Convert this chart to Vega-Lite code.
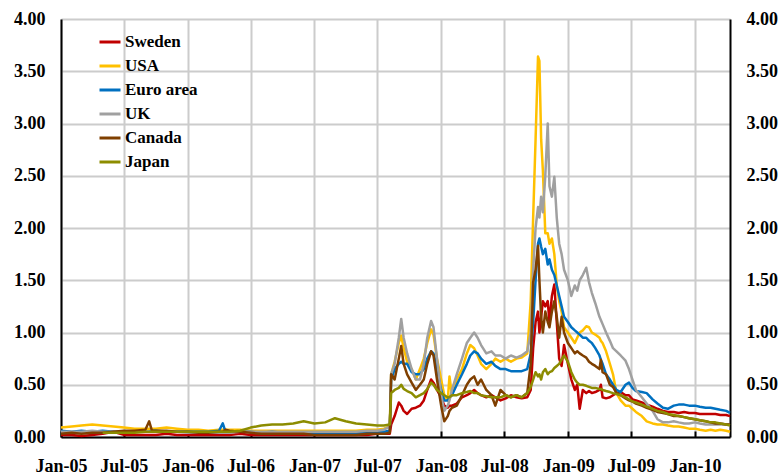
{
  "$schema": "https://vega.github.io/schema/vega-lite/v6.json",
  "width": 669,
  "height": 418,
  "autosize": "none",
  "padding": {"left": 61, "top": 19, "right": 51, "bottom": 39},
  "background": "white",
  "config": {"view": {"stroke": null}, "font": "Liberation Serif"},
  "datasets": {
    "rates": [
    {"d":"2005-01-01","Sweden":0.02,"USA":0.09,"Euro area":0.06,"UK":0.05,"Canada":0.03,"Japan":null},
    {"d":"2005-02-01","Sweden":0.02,"USA":0.10,"Euro area":0.05,"UK":0.05,"Canada":0.04,"Japan":null},
    {"d":"2005-03-01","Sweden":0.01,"USA":0.11,"Euro area":0.06,"UK":0.05,"Canada":0.03,"Japan":null},
    {"d":"2005-04-01","Sweden":0.02,"USA":0.12,"Euro area":0.05,"UK":0.06,"Canada":0.04,"Japan":null},
    {"d":"2005-05-01","Sweden":0.03,"USA":0.11,"Euro area":0.06,"UK":0.05,"Canada":0.04,"Japan":0.04},
    {"d":"2005-06-01","Sweden":0.05,"USA":0.10,"Euro area":0.05,"UK":0.05,"Canada":0.05,"Japan":0.04},
    {"d":"2005-07-01","Sweden":0.02,"USA":0.09,"Euro area":0.05,"UK":0.05,"Canada":0.06,"Japan":0.04},
    {"d":"2005-08-01","Sweden":0.02,"USA":0.08,"Euro area":0.05,"UK":0.05,"Canada":0.06,"Japan":0.04},
    {"d":"2005-09-01","Sweden":0.02,"USA":0.08,"Euro area":0.05,"UK":0.05,"Canada":0.07,"Japan":0.05},
    {"d":"2005-09-12","Sweden":0.02,"USA":0.08,"Euro area":0.05,"UK":0.05,"Canada":0.15,"Japan":0.05},
    {"d":"2005-09-20","Sweden":0.02,"USA":0.08,"Euro area":0.06,"UK":0.05,"Canada":0.06,"Japan":0.05},
    {"d":"2005-10-01","Sweden":0.02,"USA":0.08,"Euro area":0.06,"UK":0.05,"Canada":0.06,"Japan":0.05},
    {"d":"2005-11-01","Sweden":0.03,"USA":0.09,"Euro area":0.05,"UK":0.05,"Canada":0.06,"Japan":0.05},
    {"d":"2005-12-01","Sweden":0.02,"USA":0.08,"Euro area":0.05,"UK":0.05,"Canada":0.05,"Japan":0.05},
    {"d":"2006-01-01","Sweden":0.02,"USA":0.07,"Euro area":0.05,"UK":0.04,"Canada":0.05,"Japan":0.05},
    {"d":"2006-02-01","Sweden":0.02,"USA":0.07,"Euro area":0.05,"UK":0.04,"Canada":0.04,"Japan":0.05},
    {"d":"2006-03-01","Sweden":0.02,"USA":0.06,"Euro area":0.05,"UK":0.04,"Canada":0.04,"Japan":0.05},
    {"d":"2006-04-01","Sweden":0.02,"USA":0.07,"Euro area":0.06,"UK":0.04,"Canada":0.05,"Japan":0.05},
    {"d":"2006-04-12","Sweden":0.02,"USA":0.07,"Euro area":0.13,"UK":0.04,"Canada":0.05,"Japan":0.05},
    {"d":"2006-04-20","Sweden":0.02,"USA":0.07,"Euro area":0.05,"UK":0.04,"Canada":0.07,"Japan":0.05},
    {"d":"2006-05-01","Sweden":0.02,"USA":0.07,"Euro area":0.05,"UK":0.04,"Canada":0.06,"Japan":0.05},
    {"d":"2006-06-01","Sweden":0.03,"USA":0.07,"Euro area":0.05,"UK":0.05,"Canada":0.05,"Japan":0.06},
    {"d":"2006-07-01","Sweden":0.02,"USA":0.06,"Euro area":0.05,"UK":0.05,"Canada":0.04,"Japan":0.09},
    {"d":"2006-08-01","Sweden":0.02,"USA":0.06,"Euro area":0.04,"UK":0.05,"Canada":0.03,"Japan":0.11},
    {"d":"2006-09-01","Sweden":0.02,"USA":0.06,"Euro area":0.05,"UK":0.05,"Canada":0.03,"Japan":0.12},
    {"d":"2006-10-01","Sweden":0.02,"USA":0.06,"Euro area":0.04,"UK":0.05,"Canada":0.03,"Japan":0.12},
    {"d":"2006-11-01","Sweden":0.02,"USA":0.06,"Euro area":0.04,"UK":0.05,"Canada":0.03,"Japan":0.13},
    {"d":"2006-12-01","Sweden":0.02,"USA":0.06,"Euro area":0.04,"UK":0.05,"Canada":0.03,"Japan":0.15},
    {"d":"2007-01-01","Sweden":0.02,"USA":0.06,"Euro area":0.04,"UK":0.05,"Canada":0.02,"Japan":0.13},
    {"d":"2007-02-01","Sweden":0.02,"USA":0.06,"Euro area":0.04,"UK":0.05,"Canada":0.02,"Japan":0.14},
    {"d":"2007-03-01","Sweden":0.02,"USA":0.06,"Euro area":0.04,"UK":0.05,"Canada":0.02,"Japan":0.18},
    {"d":"2007-04-01","Sweden":0.02,"USA":0.06,"Euro area":0.04,"UK":0.05,"Canada":0.02,"Japan":0.15},
    {"d":"2007-05-01","Sweden":0.02,"USA":0.06,"Euro area":0.04,"UK":0.05,"Canada":0.02,"Japan":0.13},
    {"d":"2007-06-01","Sweden":0.02,"USA":0.07,"Euro area":0.04,"UK":0.06,"Canada":0.03,"Japan":0.12},
    {"d":"2007-07-01","Sweden":0.03,"USA":0.07,"Euro area":0.05,"UK":0.06,"Canada":0.03,"Japan":0.11},
    {"d":"2007-07-20","Sweden":0.03,"USA":0.08,"Euro area":0.05,"UK":0.07,"Canada":0.03,"Japan":0.11},
    {"d":"2007-08-06","Sweden":0.03,"USA":0.10,"Euro area":0.06,"UK":0.10,"Canada":0.04,"Japan":0.12},
    {"d":"2007-08-10","Sweden":0.12,"USA":0.60,"Euro area":0.55,"UK":0.60,"Canada":0.60,"Japan":0.42},
    {"d":"2007-08-20","Sweden":0.20,"USA":0.72,"Euro area":0.65,"UK":0.70,"Canada":0.55,"Japan":0.45},
    {"d":"2007-09-01","Sweden":0.33,"USA":0.90,"Euro area":0.70,"UK":0.95,"Canada":0.75,"Japan":0.47},
    {"d":"2007-09-08","Sweden":0.30,"USA":0.97,"Euro area":0.72,"UK":1.13,"Canada":0.87,"Japan":0.50},
    {"d":"2007-09-15","Sweden":0.25,"USA":0.85,"Euro area":0.70,"UK":0.95,"Canada":0.70,"Japan":0.46},
    {"d":"2007-09-25","Sweden":0.22,"USA":0.72,"Euro area":0.70,"UK":0.80,"Canada":0.60,"Japan":0.44},
    {"d":"2007-10-08","Sweden":0.27,"USA":0.65,"Euro area":0.62,"UK":0.65,"Canada":0.52,"Japan":0.42},
    {"d":"2007-10-20","Sweden":0.28,"USA":0.55,"Euro area":0.60,"UK":0.55,"Canada":0.45,"Japan":0.38},
    {"d":"2007-11-01","Sweden":0.30,"USA":0.65,"Euro area":0.60,"UK":0.55,"Canada":0.50,"Japan":0.40},
    {"d":"2007-11-12","Sweden":0.35,"USA":0.75,"Euro area":0.65,"UK":0.70,"Canada":0.55,"Japan":0.42},
    {"d":"2007-11-22","Sweden":0.45,"USA":0.90,"Euro area":0.75,"UK":0.95,"Canada":0.70,"Japan":0.46},
    {"d":"2007-12-03","Sweden":0.55,"USA":1.03,"Euro area":0.82,"UK":1.11,"Canada":0.82,"Japan":0.52},
    {"d":"2007-12-10","Sweden":0.52,"USA":0.98,"Euro area":0.80,"UK":1.05,"Canada":0.78,"Japan":0.50},
    {"d":"2007-12-20","Sweden":0.45,"USA":0.75,"Euro area":0.65,"UK":0.75,"Canada":0.55,"Japan":0.45},
    {"d":"2008-01-01","Sweden":0.38,"USA":0.55,"Euro area":0.45,"UK":0.40,"Canada":0.30,"Japan":0.42},
    {"d":"2008-01-10","Sweden":0.30,"USA":0.40,"Euro area":0.35,"UK":0.25,"Canada":0.15,"Japan":0.40},
    {"d":"2008-01-20","Sweden":0.28,"USA":0.35,"Euro area":0.35,"UK":0.30,"Canada":0.20,"Japan":0.38},
    {"d":"2008-01-25","Sweden":0.30,"USA":0.58,"Euro area":0.38,"UK":0.35,"Canada":0.25,"Japan":0.38},
    {"d":"2008-02-01","Sweden":0.30,"USA":0.40,"Euro area":0.40,"UK":0.45,"Canada":0.28,"Japan":0.40},
    {"d":"2008-02-15","Sweden":0.32,"USA":0.55,"Euro area":0.50,"UK":0.60,"Canada":0.30,"Japan":0.40},
    {"d":"2008-03-01","Sweden":0.38,"USA":0.65,"Euro area":0.60,"UK":0.75,"Canada":0.40,"Japan":0.42},
    {"d":"2008-03-15","Sweden":0.40,"USA":0.80,"Euro area":0.70,"UK":0.90,"Canada":0.50,"Japan":0.43},
    {"d":"2008-03-25","Sweden":0.42,"USA":0.88,"Euro area":0.78,"UK":0.95,"Canada":0.55,"Japan":0.44},
    {"d":"2008-04-05","Sweden":0.45,"USA":0.85,"Euro area":0.82,"UK":1.00,"Canada":0.58,"Japan":0.42},
    {"d":"2008-04-15","Sweden":0.42,"USA":0.78,"Euro area":0.80,"UK":0.95,"Canada":0.50,"Japan":0.42},
    {"d":"2008-04-25","Sweden":0.40,"USA":0.70,"Euro area":0.75,"UK":0.88,"Canada":0.55,"Japan":0.40},
    {"d":"2008-05-10","Sweden":0.38,"USA":0.65,"Euro area":0.70,"UK":0.80,"Canada":0.45,"Japan":0.39},
    {"d":"2008-05-25","Sweden":0.40,"USA":0.70,"Euro area":0.72,"UK":0.82,"Canada":0.40,"Japan":0.38},
    {"d":"2008-06-05","Sweden":0.38,"USA":0.75,"Euro area":0.68,"UK":0.78,"Canada":0.30,"Japan":0.38},
    {"d":"2008-06-20","Sweden":0.35,"USA":0.72,"Euro area":0.65,"UK":0.78,"Canada":0.45,"Japan":0.38},
    {"d":"2008-07-05","Sweden":0.37,"USA":0.75,"Euro area":0.65,"UK":0.75,"Canada":0.40,"Japan":0.40},
    {"d":"2008-07-20","Sweden":0.40,"USA":0.72,"Euro area":0.63,"UK":0.78,"Canada":0.38,"Japan":0.38},
    {"d":"2008-08-05","Sweden":0.38,"USA":0.75,"Euro area":0.63,"UK":0.76,"Canada":0.40,"Japan":0.40},
    {"d":"2008-08-20","Sweden":0.37,"USA":0.76,"Euro area":0.63,"UK":0.78,"Canada":0.38,"Japan":0.38},
    {"d":"2008-09-05","Sweden":0.38,"USA":0.80,"Euro area":0.65,"UK":0.82,"Canada":0.42,"Japan":0.42},
    {"d":"2008-09-15","Sweden":0.45,"USA":1.30,"Euro area":0.80,"UK":1.00,"Canada":0.70,"Japan":0.48},
    {"d":"2008-09-22","Sweden":0.85,"USA":2.10,"Euro area":1.10,"UK":1.60,"Canada":1.48,"Japan":0.55},
    {"d":"2008-09-29","Sweden":1.10,"USA":2.85,"Euro area":1.50,"UK":2.00,"Canada":1.60,"Japan":0.62},
    {"d":"2008-10-06","Sweden":1.20,"USA":3.64,"Euro area":1.85,"UK":2.20,"Canada":1.83,"Japan":0.58},
    {"d":"2008-10-10","Sweden":1.00,"USA":3.60,"Euro area":1.90,"UK":2.10,"Canada":1.50,"Japan":0.60},
    {"d":"2008-10-15","Sweden":1.15,"USA":2.85,"Euro area":1.82,"UK":2.30,"Canada":1.15,"Japan":0.55},
    {"d":"2008-10-20","Sweden":1.30,"USA":2.55,"Euro area":1.75,"UK":2.15,"Canada":1.00,"Japan":0.62},
    {"d":"2008-10-27","Sweden":1.25,"USA":1.95,"Euro area":1.80,"UK":2.50,"Canada":1.20,"Japan":0.65},
    {"d":"2008-11-03","Sweden":1.30,"USA":1.95,"Euro area":1.65,"UK":3.00,"Canada":1.10,"Japan":0.60},
    {"d":"2008-11-08","Sweden":1.10,"USA":1.85,"Euro area":1.70,"UK":2.40,"Canada":1.05,"Japan":0.62},
    {"d":"2008-11-15","Sweden":1.35,"USA":1.90,"Euro area":1.60,"UK":2.30,"Canada":1.20,"Japan":0.63},
    {"d":"2008-11-22","Sweden":1.46,"USA":1.75,"Euro area":1.55,"UK":2.49,"Canada":1.30,"Japan":0.66},
    {"d":"2008-11-29","Sweden":1.10,"USA":1.45,"Euro area":1.45,"UK":2.10,"Canada":1.15,"Japan":0.68},
    {"d":"2008-12-06","Sweden":0.75,"USA":1.30,"Euro area":1.35,"UK":1.85,"Canada":0.95,"Japan":0.70},
    {"d":"2008-12-13","Sweden":0.68,"USA":1.20,"Euro area":1.25,"UK":1.75,"Canada":1.15,"Japan":0.74},
    {"d":"2008-12-20","Sweden":0.88,"USA":1.05,"Euro area":1.15,"UK":1.60,"Canada":1.00,"Japan":0.78},
    {"d":"2008-12-31","Sweden":0.70,"USA":1.00,"Euro area":1.10,"UK":1.50,"Canada":0.90,"Japan":0.72},
    {"d":"2009-01-10","Sweden":0.55,"USA":0.95,"Euro area":1.05,"UK":1.35,"Canada":0.85,"Japan":0.62},
    {"d":"2009-01-20","Sweden":0.45,"USA":0.90,"Euro area":1.02,"UK":1.45,"Canada":0.80,"Japan":0.55},
    {"d":"2009-01-27","Sweden":0.50,"USA":0.95,"Euro area":1.00,"UK":1.40,"Canada":0.82,"Japan":0.52},
    {"d":"2009-02-03","Sweden":0.27,"USA":1.00,"Euro area":0.98,"UK":1.50,"Canada":0.80,"Japan":0.50},
    {"d":"2009-02-12","Sweden":0.45,"USA":1.02,"Euro area":0.95,"UK":1.55,"Canada":0.78,"Japan":0.50},
    {"d":"2009-02-22","Sweden":0.42,"USA":1.06,"Euro area":0.95,"UK":1.62,"Canada":0.76,"Japan":0.49},
    {"d":"2009-03-02","Sweden":0.44,"USA":1.05,"Euro area":0.92,"UK":1.48,"Canada":0.72,"Japan":0.48},
    {"d":"2009-03-10","Sweden":0.42,"USA":1.00,"Euro area":0.90,"UK":1.38,"Canada":0.70,"Japan":0.47},
    {"d":"2009-03-20","Sweden":0.43,"USA":0.98,"Euro area":0.85,"UK":1.28,"Canada":0.68,"Japan":0.47},
    {"d":"2009-04-01","Sweden":0.45,"USA":0.95,"Euro area":0.78,"UK":1.15,"Canada":0.65,"Japan":0.46},
    {"d":"2009-04-05","Sweden":0.50,"USA":0.92,"Euro area":0.74,"UK":1.12,"Canada":0.74,"Japan":0.46},
    {"d":"2009-04-10","Sweden":0.38,"USA":0.90,"Euro area":0.70,"UK":1.08,"Canada":0.62,"Japan":0.45},
    {"d":"2009-04-20","Sweden":0.37,"USA":0.82,"Euro area":0.60,"UK":1.00,"Canada":0.60,"Japan":0.44},
    {"d":"2009-05-01","Sweden":0.38,"USA":0.70,"Euro area":0.55,"UK":0.92,"Canada":0.50,"Japan":0.43},
    {"d":"2009-05-10","Sweden":0.40,"USA":0.60,"Euro area":0.50,"UK":0.85,"Canada":0.48,"Japan":0.42},
    {"d":"2009-05-20","Sweden":0.42,"USA":0.42,"Euro area":0.45,"UK":0.82,"Canada":0.42,"Japan":0.41},
    {"d":"2009-06-01","Sweden":0.43,"USA":0.35,"Euro area":0.43,"UK":0.78,"Canada":0.40,"Japan":0.40},
    {"d":"2009-06-15","Sweden":0.40,"USA":0.30,"Euro area":0.50,"UK":0.73,"Canada":0.37,"Japan":0.38},
    {"d":"2009-06-25","Sweden":0.40,"USA":0.30,"Euro area":0.52,"UK":0.65,"Canada":0.35,"Japan":0.36},
    {"d":"2009-07-05","Sweden":0.36,"USA":0.27,"Euro area":0.47,"UK":0.55,"Canada":0.34,"Japan":0.34},
    {"d":"2009-07-15","Sweden":0.35,"USA":0.24,"Euro area":0.44,"UK":0.45,"Canada":0.32,"Japan":0.33},
    {"d":"2009-08-01","Sweden":0.33,"USA":0.20,"Euro area":0.43,"UK":0.38,"Canada":0.30,"Japan":0.31},
    {"d":"2009-08-15","Sweden":0.31,"USA":0.15,"Euro area":0.42,"UK":0.32,"Canada":0.28,"Japan":0.29},
    {"d":"2009-09-01","Sweden":0.29,"USA":0.13,"Euro area":0.36,"UK":0.25,"Canada":0.26,"Japan":0.27},
    {"d":"2009-09-15","Sweden":0.27,"USA":0.12,"Euro area":0.32,"UK":0.17,"Canada":0.24,"Japan":0.25},
    {"d":"2009-10-01","Sweden":0.25,"USA":0.12,"Euro area":0.28,"UK":0.14,"Canada":0.23,"Japan":0.24},
    {"d":"2009-10-15","Sweden":0.24,"USA":0.11,"Euro area":0.27,"UK":0.14,"Canada":0.22,"Japan":0.22},
    {"d":"2009-11-01","Sweden":0.24,"USA":0.10,"Euro area":0.30,"UK":0.15,"Canada":0.20,"Japan":0.21},
    {"d":"2009-11-15","Sweden":0.23,"USA":0.10,"Euro area":0.31,"UK":0.14,"Canada":0.20,"Japan":0.20},
    {"d":"2009-12-01","Sweden":0.24,"USA":0.09,"Euro area":0.31,"UK":0.13,"Canada":0.19,"Japan":0.19},
    {"d":"2009-12-15","Sweden":0.23,"USA":0.08,"Euro area":0.30,"UK":0.13,"Canada":0.18,"Japan":0.18},
    {"d":"2010-01-01","Sweden":0.23,"USA":0.08,"Euro area":0.30,"UK":0.14,"Canada":0.17,"Japan":0.17},
    {"d":"2010-01-15","Sweden":0.22,"USA":0.07,"Euro area":0.29,"UK":0.13,"Canada":0.16,"Japan":0.16},
    {"d":"2010-02-01","Sweden":0.22,"USA":0.06,"Euro area":0.28,"UK":0.12,"Canada":0.15,"Japan":0.15},
    {"d":"2010-02-15","Sweden":0.22,"USA":0.07,"Euro area":0.28,"UK":0.12,"Canada":0.14,"Japan":0.14},
    {"d":"2010-03-01","Sweden":0.22,"USA":0.06,"Euro area":0.27,"UK":0.12,"Canada":0.13,"Japan":0.14},
    {"d":"2010-03-15","Sweden":0.21,"USA":0.07,"Euro area":0.26,"UK":0.12,"Canada":0.13,"Japan":0.13},
    {"d":"2010-04-01","Sweden":0.21,"USA":0.06,"Euro area":0.25,"UK":0.12,"Canada":0.12,"Japan":0.12},
    {"d":"2010-04-12","Sweden":0.20,"USA":0.05,"Euro area":0.23,"UK":0.12,"Canada":0.12,"Japan":0.11}
    ]
  },
  "data": {"name": "rates"},
  "transform": [
    {"fold": ["Sweden", "USA", "Euro area", "UK", "Canada", "Japan"], "as": ["series", "value"]}
  ],
  "layer": [
    {
      "mark": {"type": "line", "strokeWidth": 2.5, "strokeJoin": "round"},
      "encoding": {
        "x": {
          "field": "d", "type": "temporal",
          "scale": {"type": "utc", "domain": [{"year": 2005, "month": 1, "date": 1, "utc": true}, {"year": 2010, "month": 4, "date": 12, "utc": true}]},
          "axis": {
            "orient": "bottom", "title": null, "format": "%b-%y",
            "tickCount": {"interval": "month", "step": 6},
            "grid": true, "gridColor": "#cccccc", "gridWidth": 2, "gridOpacity": 1,
            "domainColor": "black", "domainWidth": 2, "ticks": false,
            "labelPadding": 20, "labelFont": "Liberation Serif", "labelFontWeight": "bold",
            "labelFontSize": 18, "labelColor": "black", "labelOverlap": false, "labelFlush": false
          }
        },
        "y": {
          "field": "value", "type": "quantitative",
          "scale": {"domain": [0, 4], "nice": false},
          "axis": {
            "orient": "left", "title": null, "format": ".2f",
            "values": [0, 0.5, 1, 1.5, 2, 2.5, 3, 3.5, 4],
            "grid": true, "gridColor": "#cccccc", "gridWidth": 2, "gridOpacity": 1,
            "domainColor": "black", "domainWidth": 2, "ticks": false,
            "labelPadding": 16, "labelFont": "Liberation Serif", "labelFontWeight": "bold",
            "labelFontSize": 18, "labelColor": "black"
          }
        },
        "color": {
          "field": "series", "type": "nominal",
          "scale": {
            "domain": ["Sweden", "USA", "Euro area", "UK", "Canada", "Japan"],
            "range": ["#C00000", "#FFC000", "#0070C0", "#A0A0A0", "#7F3F00", "#8C8C00"]
          },
          "legend": {
            "orient": "none", "legendX": 37, "legendY": 11, "title": null,
            "symbolType": "stroke", "symbolSize": 441, "symbolStrokeWidth": 3,
            "labelFont": "Liberation Serif", "labelFontWeight": "bold", "labelFontSize": 17,
            "labelColor": "black", "rowPadding": 4, "labelOffset": 3, "padding": 0
          }
        }
      }
    },
    {
      "mark": {"type": "line", "opacity": 0},
      "encoding": {
        "x": {
          "field": "d", "type": "temporal",
          "scale": {"type": "utc", "domain": [{"year": 2005, "month": 1, "date": 1, "utc": true}, {"year": 2010, "month": 4, "date": 12, "utc": true}]},
          "axis": {
            "orient": "bottom", "title": null, "offset": -6,
            "tickCount": {"interval": "month", "step": 6},
            "domain": false, "labels": false, "grid": false,
            "ticks": true, "tickSize": 6, "tickColor": "black", "tickWidth": 2
          }
        },
        "y": {
          "field": "value", "type": "quantitative",
          "scale": {"domain": [0, 4], "nice": false},
          "axis": {
            "orient": "right", "title": null, "format": ".2f",
            "values": [0, 0.5, 1, 1.5, 2, 2.5, 3, 3.5, 4],
            "grid": false, "ticks": false,
            "domainColor": "black", "domainWidth": 2,
            "labelPadding": 16, "labelFont": "Liberation Serif", "labelFontWeight": "bold",
            "labelFontSize": 18, "labelColor": "black"
          }
        },
        "detail": {"field": "series"}
      }
    }
  ],
  "resolve": {"axis": {"x": "independent", "y": "independent"}}
}
